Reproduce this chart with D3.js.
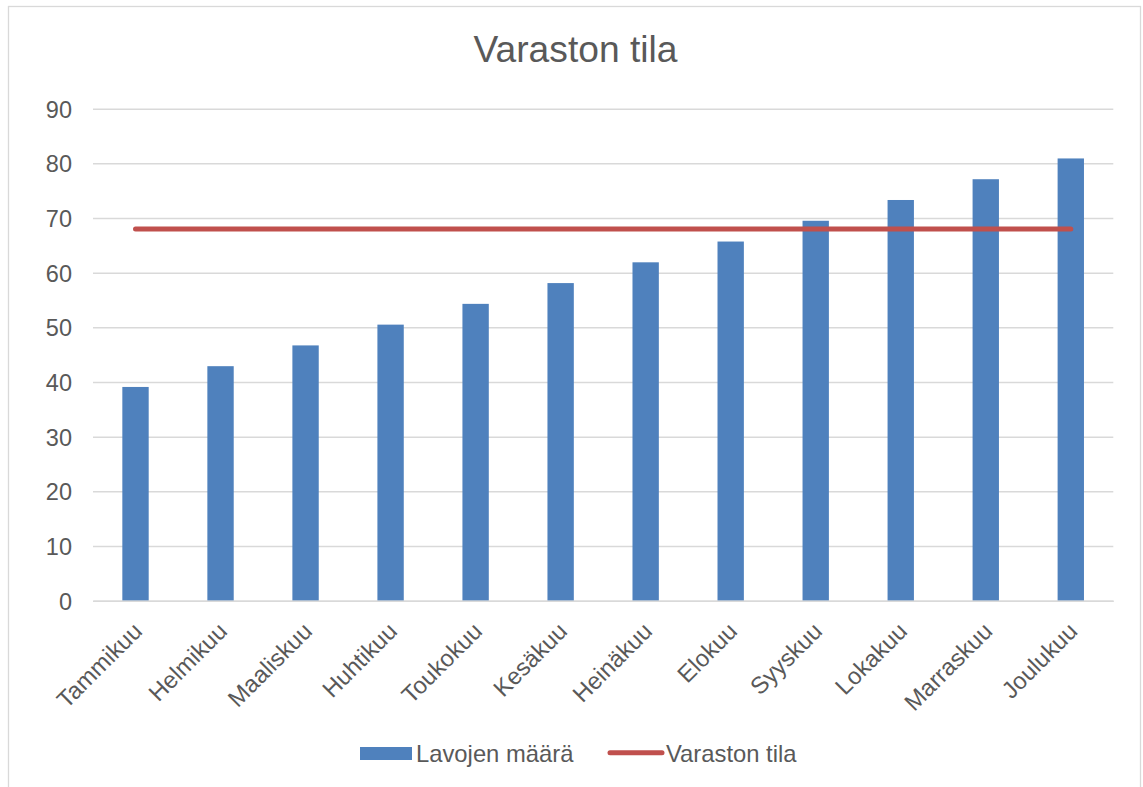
<!DOCTYPE html>
<html><head><meta charset="utf-8">
<script src="https://cdn.jsdelivr.net/npm/d3@7"></script>
<style>body{margin:0;background:#fff;}svg{display:block;font-family:"Liberation Sans",Arial,sans-serif;}</style>
</head><body>
<script>
const categories = ["Tammikuu","Helmikuu","Maaliskuu","Huhtikuu","Toukokuu","Kesäkuu","Heinäkuu","Elokuu","Syyskuu","Lokakuu","Marraskuu","Joulukuu"];
const lavojenMaara = [39.1,42.9,46.7,50.5,54.3,58.1,61.9,65.7,69.5,73.3,77.1,80.9];
const varastonTila = [68,68,68,68,68,68,68,68,68,68,68,68];
const yTicks = [0,10,20,30,40,50,60,70,80,90];
const seriesNames = ["Lavojen määrä","Varaston tila"];
const title = "Varaston tila";

const W=1143,H=787;
const svg=d3.select("body").append("svg").attr("width",W).attr("height",H);
const txt="#595959", grid="#d9d9d9", blue="#4f81bd", red="#c0504d";

svg.append("rect").attr("x",8.5).attr("y",6.5).attr("width",1132).attr("height",800)
  .attr("fill","#fff").attr("stroke",grid).attr("stroke-width",1.3);

const pLeft=93,pRight=1113.3,pTop=108.7,pBottom=600.7;
const x=d3.scaleBand().domain(categories).range([pLeft,pRight]).paddingInner(0.69).paddingOuter(0.345);
const xc=d3.scaleBand().domain(categories).range([pLeft,pRight]);
const y=d3.scaleLinear().domain([0,90]).range([pBottom,pTop]);

svg.append("text").attr("x",575.5).attr("y",62).attr("text-anchor","middle")
  .attr("font-size",37.2).attr("fill",txt).text(title);

const ya=svg.append("g").attr("transform",`translate(${pLeft},0)`)
  .call(d3.axisLeft(y).tickValues(yTicks).tickSize(-(pRight-pLeft)).tickPadding(21));
ya.select(".domain").remove();
ya.selectAll(".tick line").attr("stroke",grid).attr("stroke-width",1.5);
ya.selectAll(".tick text").attr("font-size",23.5).attr("fill",txt).attr("font-family","Liberation Sans, Arial, sans-serif").attr("dy","0.36em");

svg.append("g").selectAll("rect").data(categories).join("rect")
  .attr("x",d=>x(d)).attr("width",x.bandwidth())
  .attr("y",(d,i)=>y(lavojenMaara[i])).attr("height",(d,i)=>y(0)-y(lavojenMaara[i]))
  .attr("fill",blue);

const line=d3.line().x((d,i)=>xc(categories[i])+xc.bandwidth()/2).y(d=>y(d));
svg.append("path").datum(varastonTila).attr("d",line).attr("fill","none")
  .attr("stroke",red).attr("stroke-width",5).attr("stroke-linecap","round");

const xa=svg.append("g").attr("transform",`translate(0,${pBottom})`)
  .call(d3.axisBottom(xc).tickSize(0).tickSizeOuter(0).tickFormat(()=>""));
xa.select(".domain").attr("stroke",grid).attr("stroke-width",1.5);

svg.append("g").selectAll("text").data(categories).join("text")
  .attr("transform",d=>`translate(${xc(d)+xc.bandwidth()/2+8},${pBottom+32}) rotate(-45)`)
  .attr("text-anchor","end").attr("font-size",23.8).attr("fill",txt).text(d=>d);

// legend
const lg=svg.append("g");
lg.append("rect").attr("x",360).attr("y",747).attr("width",52).attr("height",13).attr("fill",blue);
lg.append("text").attr("x",416).attr("y",762).attr("font-size",23.8).attr("fill",txt).text(seriesNames[0]);
lg.append("line").attr("x1",610).attr("x2",662).attr("y1",752.7).attr("y2",752.7)
  .attr("stroke",red).attr("stroke-width",5).attr("stroke-linecap","round");
lg.append("text").attr("x",666).attr("y",762).attr("font-size",23.8).attr("fill",txt).text(seriesNames[1]);
</script>
</body></html>
